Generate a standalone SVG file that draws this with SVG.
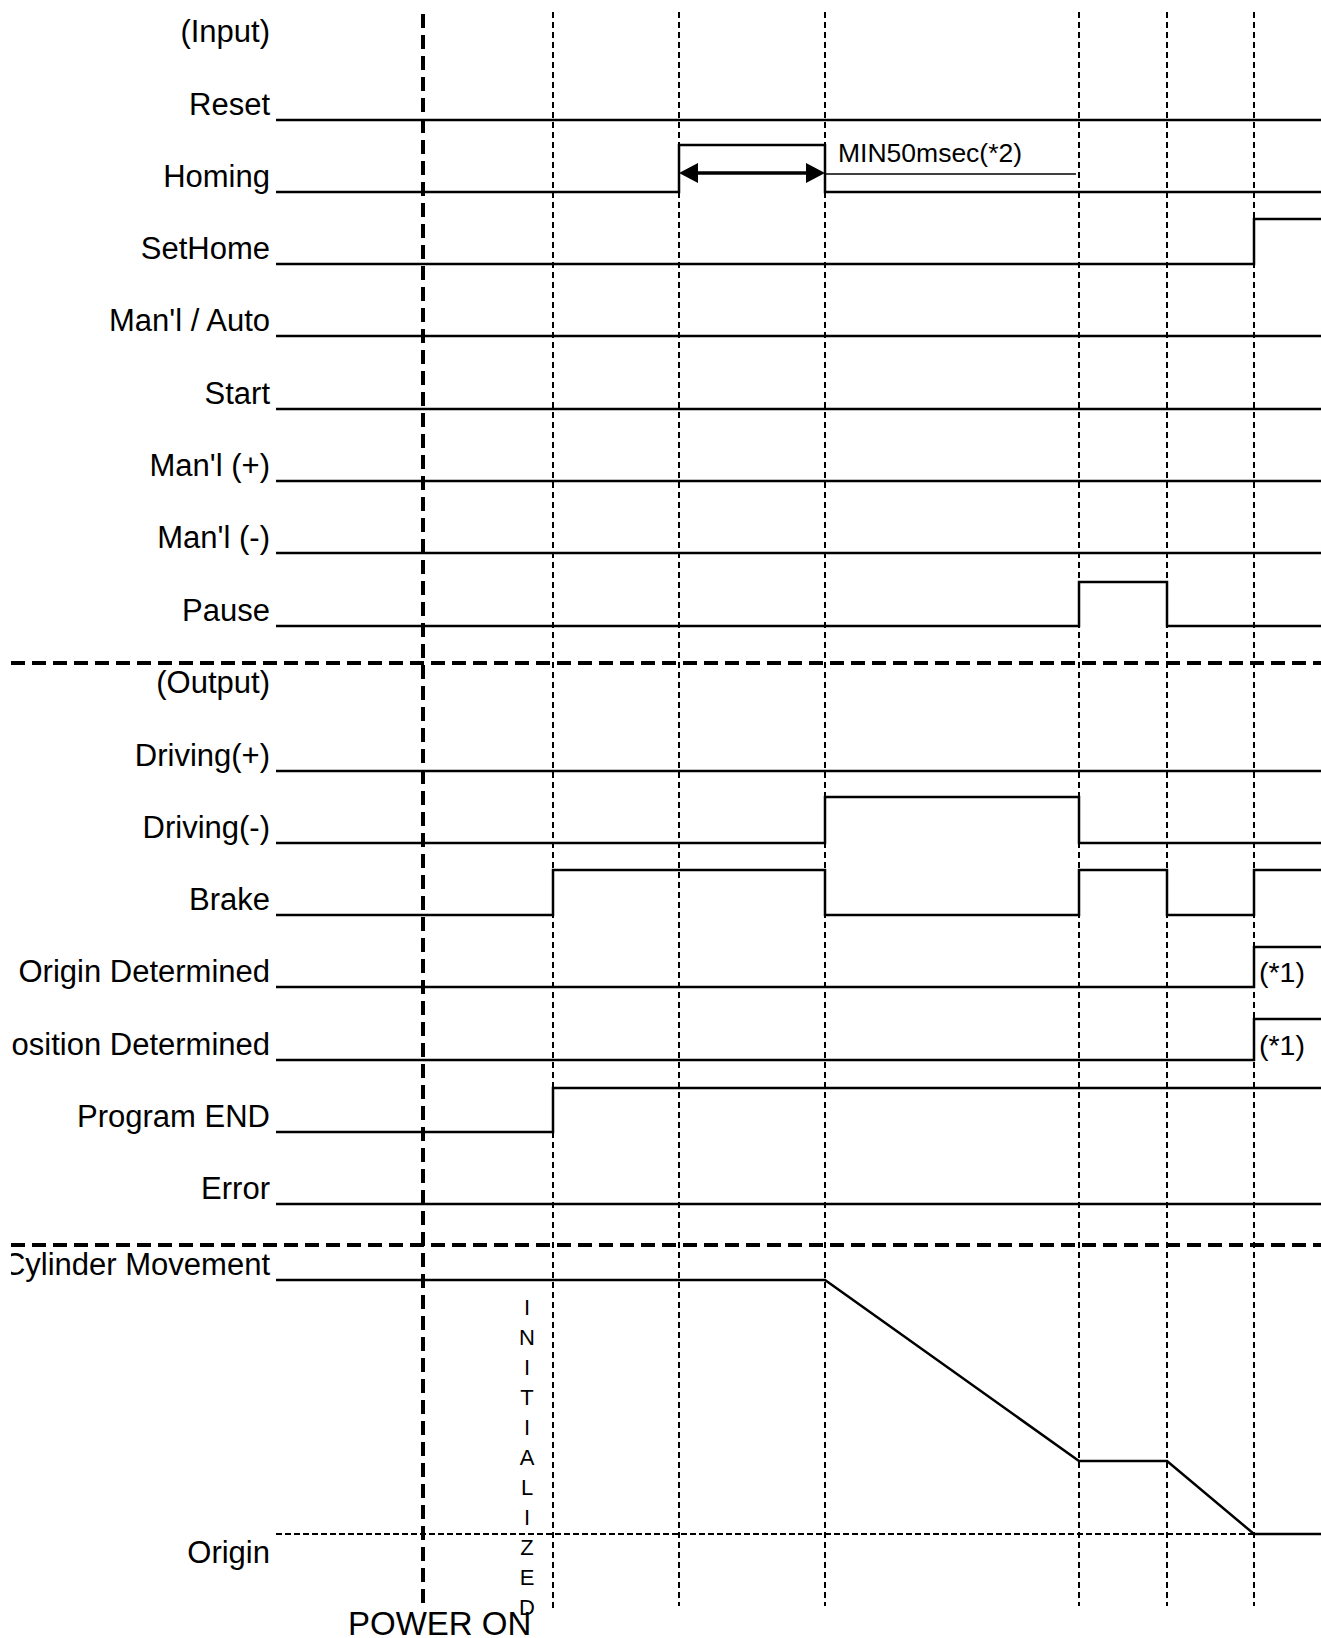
<svg xmlns="http://www.w3.org/2000/svg" width="1321" height="1638" viewBox="0 0 1321 1638">
<style>
text{font-family:"Liberation Sans",Arial,sans-serif;fill:#000}
.lbl{font-size:31px;text-anchor:end}
.sig{fill:none;stroke:#000;stroke-width:2.5}
.sep{fill:none;stroke:#000;stroke-width:4;stroke-dasharray:14 7}
.vt{fill:none;stroke:#000;stroke-width:2;stroke-dasharray:6 4}
.vthick{fill:none;stroke:#000;stroke-width:4;stroke-dasharray:14 7}
.org{fill:none;stroke:#000;stroke-width:1.8;stroke-dasharray:6 3}
.init{font-size:22px;text-anchor:middle}
.note{font-size:28.5px}
</style>
<defs>
<clipPath id="clip"><rect x="11" y="0" width="1310" height="1638"/></clipPath>
</defs>
<rect width="1321" height="1638" fill="#fff"/>
<g clip-path="url(#clip)">
<g id="labels">
<text class="lbl" x="270" y="42">(Input)</text>
<text class="lbl" x="270" y="693">(Output)</text>
</g>
<g id="reset"><text class="lbl" x="270" y="115">Reset</text><path class="sig" d="M276,120 H1321"/></g>
<g id="homing"><text class="lbl" x="270" y="187">Homing</text><path class="sig" d="M276,192 H679 V145 H825 V192 H1321"/></g>
<g id="sethome"><text class="lbl" x="270" y="259">SetHome</text><path class="sig" d="M276,264 H1254 V219 H1321"/></g>
<g id="manauto"><text class="lbl" x="270" y="331">Man'l / Auto</text><path class="sig" d="M276,336 H1321"/></g>
<g id="start"><text class="lbl" x="270" y="404">Start</text><path class="sig" d="M276,409 H1321"/></g>
<g id="manplus"><text class="lbl" x="270" y="476">Man'l (+)</text><path class="sig" d="M276,481 H1321"/></g>
<g id="manminus"><text class="lbl" x="270" y="548">Man'l (-)</text><path class="sig" d="M276,553 H1321"/></g>
<g id="pause"><text class="lbl" x="270" y="621">Pause</text><path class="sig" d="M276,626 H1079 V582 H1167 V626 H1321"/></g>
<g id="drivplus"><text class="lbl" x="270" y="766">Driving(+)</text><path class="sig" d="M276,771 H1321"/></g>
<g id="drivminus"><text class="lbl" x="270" y="838">Driving(-)</text><path class="sig" d="M276,843 H825 V797 H1079 V843 H1321"/></g>
<g id="brake"><text class="lbl" x="270" y="910">Brake</text><path class="sig" d="M276,915 H553 V870 H825 V915 H1079 V870 H1167 V915 H1254 V870 H1321"/></g>
<g id="origindet"><text class="lbl" x="270" y="982">Origin Determined</text><path class="sig" d="M276,987 H1254 V947 H1321"/><text class="note" x="1259" y="982">(*1)</text></g>
<g id="posdet"><text class="lbl" x="270" y="1055">Position Determined</text><path class="sig" d="M276,1060 H1254 V1019 H1321"/><text class="note" x="1259" y="1055">(*1)</text></g>
<g id="progend"><text class="lbl" x="270" y="1127">Program END</text><path class="sig" d="M276,1132 H553 V1088 H1321"/></g>
<g id="error"><text class="lbl" x="270" y="1199">Error</text><path class="sig" d="M276,1204 H1321"/></g>
<g id="cylinder"><text class="lbl" x="270" y="1275">Cylinder Movement</text><path class="sig" d="M276,1280 H825 L1079,1461 H1167 L1254,1534 H1321"/></g>
<g id="origin"><text class="lbl" x="270" y="1563">Origin</text></g>
<g id="connectors">
<path class="sep" d="M11,663 H1321"/>
<path class="sep" d="M11,1245 H1321"/>
<path class="org" d="M276,1534 H1254"/>
<path class="vthick" d="M423,14 V1610"/>
<path class="vt" d="M553,12 V1608"/>
<path class="vt" d="M679,12 V1606"/>
<path class="vt" d="M825,12 V1606"/>
<path class="vt" d="M1079,12 V1606"/>
<path class="vt" d="M1167,12 V1606"/>
<path class="vt" d="M1254,12 V1606"/>
<path fill="none" stroke="#000" stroke-width="3.5" d="M696,173 H808"/>
<path d="M679,173 L698,163 L698,183 z" fill="#000"/>
<path d="M825,173 L806,163 L806,183 z" fill="#000"/>
<path fill="none" stroke="#000" stroke-width="1.5" d="M825,174 H1076"/>
</g>
<g id="annotations">
<text x="838" y="162" font-size="26.5">MIN50msec(*2)</text>
<text x="348" y="1635" font-size="33">POWER ON</text>
<text class="init" x="527" y="1315">I</text>
<text class="init" x="527" y="1345">N</text>
<text class="init" x="527" y="1375">I</text>
<text class="init" x="527" y="1405">T</text>
<text class="init" x="527" y="1435">I</text>
<text class="init" x="527" y="1465">A</text>
<text class="init" x="527" y="1495">L</text>
<text class="init" x="527" y="1525">I</text>
<text class="init" x="527" y="1555">Z</text>
<text class="init" x="527" y="1585">E</text>
<text class="init" x="527" y="1615">D</text>
</g>
</g>
</svg>
